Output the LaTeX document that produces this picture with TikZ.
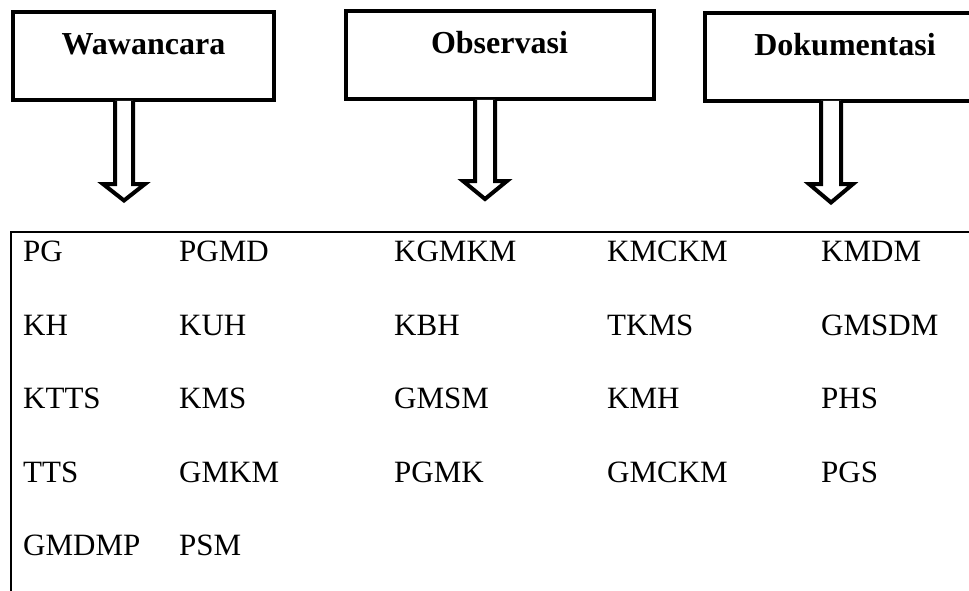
\documentclass[tikz,border=0pt]{standalone}
\usepackage{fontspec}
\setmainfont{Liberation Serif}
\usetikzlibrary{calc}
\tikzset{
  headbox/.style={draw, line width=4pt, rectangle, inner sep=0pt, outer sep=0pt,
    text height=43pt, text depth=45pt, anchor=north,
    font=\fontsize{32}{36}\selectfont\bfseries},
  hollowarrow/.style={draw, line width=4pt, fill=white, line join=miter},
  item/.style={anchor=base west, inner sep=0pt, font=\fontsize{31}{35}\selectfont},
  frame/.style={draw, line width=2pt}
}
\begin{document}
\begin{tikzpicture}[x=1pt,y=-1pt]
\useasboundingbox (0,0) rectangle (969,591);
\clip (0,0) rectangle (969,591);
\fill[white] (0,0) rectangle (969,591);

% header boxes
\node[headbox, minimum width=261pt] (w) at (143.5,12) {Wawancara};
\node[headbox, minimum width=308pt] (o) at (499.5,11) {Observasi};
\node[headbox, minimum width=280pt] (d) at (845,13) {Dokumentasi};

% list frame
\coordinate (ftl) at (10.7,231.5);
\coordinate (fbr) at (1000,620);
\draw[frame] (ftl) rectangle (fbr);

% hollow arrows
\draw[hollowarrow] ($(w.south)+(-28.5,1)$) -- ++(0,83) -- ++(-12,0) -- ++(21,16.5)
  -- ++(21,-16.5) -- ++(-12,0) -- ++(0,-83);
\draw[hollowarrow] ($(o.south)+(-24.5,1)$) -- ++(0,81) -- ++(-12,0) -- ++(22,18)
  -- ++(22,-18) -- ++(-12,0) -- ++(0,-81);
\draw[hollowarrow] ($(d.south)+(-24,0)$) -- ++(0,83) -- ++(-12,0) -- ++(22,18.5)
  -- ++(22,-18.5) -- ++(-12,0) -- ++(0,-83);

% items
\node[item] (r1c1) at (23,261) {PG};
\node[item] (r1c2) at (179,261) {PGMD};
\node[item] (r1c3) at (394,261) {KGMKM};
\node[item] (r1c4) at (607,261) {KMCKM};
\node[item] (r1c5) at (821,261) {KMDM};

\node[item] (r2c1) at (23,335) {KH};
\node[item] (r2c2) at (179,335) {KUH};
\node[item] (r2c3) at (394,335) {KBH};
\node[item] (r2c4) at (607,335) {TKMS};
\node[item] (r2c5) at (821,335) {GMSDM};

\node[item] (r3c1) at (23,408) {KTTS};
\node[item] (r3c2) at (179,408) {KMS};
\node[item] (r3c3) at (394,408) {GMSM};
\node[item] (r3c4) at (607,408) {KMH};
\node[item] (r3c5) at (821,408) {PHS};

\node[item] (r4c1) at (23,482) {TTS};
\node[item] (r4c2) at (179,482) {GMKM};
\node[item] (r4c3) at (394,482) {PGMK};
\node[item] (r4c4) at (607,482) {GMCKM};
\node[item] (r4c5) at (821,482) {PGS};

\node[item] (r5c1) at (23,555) {GMDMP};
\node[item] (r5c2) at (179,555) {PSM};
\end{tikzpicture}
\end{document}
